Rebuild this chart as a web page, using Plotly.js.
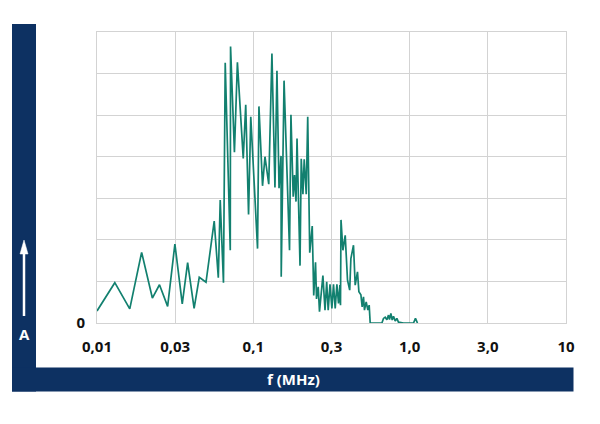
<!DOCTYPE html>
<html>
<head>
<meta charset="utf-8">
<script src="https://cdn.plot.ly/plotly-3.0.1.min.js"></script>
<style>html,body{margin:0;padding:0;background:#fff;}#chart{width:600px;height:424px;}</style>
</head>
<body>
<div id="chart"></div>
<script>
// Frequency (MHz) and amplitude (arbitrary units, gridline = 1)
const freqMHz = [0.0100,0.0130,0.0162,0.0193,0.0226,0.0251,0.0283,0.0315,0.0351,0.0380,
  0.0418,0.0451,0.0498,0.0562,0.0597,0.0614,0.0644,0.0661,0.0712,0.0715,
  0.0757,0.0791,0.0862,0.0894,0.0932,0.0963,0.1064,0.1086,0.1145,0.1187,
  0.1255,0.1315,0.1375,0.1416,0.1460,0.1504,0.1508,0.1572,0.1704,0.1740,
  0.1799,0.1834,0.1875,0.1903,0.1989,0.2025,0.2076,0.2116,0.2180,0.2228,
  0.2295,0.2381,0.2434,0.2499,0.2536,0.2600,0.2650,0.2786,0.2874,0.2946,
  0.3012,0.3093,0.3181,0.3257,0.3340,0.3424,0.3506,0.3579,0.3610,0.3638,
  0.3741,0.3870,0.4003,0.4135,0.4207,0.4372,0.4483,0.4637,0.4734,0.4875,
  0.4969,0.5065,0.5140,0.5271,0.5404,0.5508,0.5590,0.6643,0.6800,0.6973,
  0.7149,0.7320,0.7430,0.7583,0.7730,0.7880,0.8080,0.8280,0.8480,0.9130,
  1.0580,1.0890,1.1220];
const amplitude = [0.29,0.97,0.34,1.70,0.60,0.92,0.40,1.90,0.46,1.45,
  0.35,1.10,0.98,2.45,1.09,2.96,0.97,6.26,1.75,6.65,
  4.11,6.27,3.96,5.25,2.61,4.96,1.79,5.21,3.30,4.00,
  3.34,6.48,3.26,6.07,3.24,4.02,1.11,5.83,1.75,5.01,
  3.04,3.56,2.92,4.44,1.38,3.95,3.10,3.94,3.10,4.96,
  1.69,2.33,0.66,1.46,0.58,0.87,0.27,1.14,0.31,0.99,
  0.31,0.93,0.35,0.93,0.35,0.93,0.47,0.91,0.43,2.48,
  1.75,2.11,1.03,0.79,1.55,1.87,0.91,1.23,0.75,0.68,
  0.39,0.63,0.31,0.51,0.31,0.43,0.00,0.00,0.11,0.14,
  0.08,0.19,0.08,0.23,0.07,0.16,0.05,0.11,0.02,0.00,
  0.00,0.11,0.00];
const xTickVals = [0.01, 0.0316228, 0.1, 0.316228, 1, 3.16228, 10];
const xTickText = ['0,01','0,03','0,1','0,3','1,0','3,0','10'];
const yTickVals = [0,1,2,3,4,5,6,7];
const yTickText = ['0','','','','','','',''];

const W = 600, H = 424;
const M = {l: 97, r: 34, t: 32, b: 101};
const NAVY = '#0d3162';
const px = x => (x - M.l) / (W - M.l - M.r);
const py = y => (H - M.b - y) / (H - M.t - M.b);

const trace = {
  x: freqMHz, y: amplitude, type: 'scatter', mode: 'lines',
  line: {color: '#12806f', width: 1.7}, hoverinfo: 'skip'
};

const layout = {
  width: W, height: H,
  margin: M,
  paper_bgcolor: '#ffffff', plot_bgcolor: '#ffffff',
  showlegend: false,
  font: {family: 'Open Sans, sans-serif', color: '#111', size: 15, weight: 700},
  xaxis: {
    type: 'log', range: [-2, 1], tickvals: xTickVals, ticktext: xTickText,
    showgrid: true, gridcolor: '#d3d3d3', gridwidth: 1,
    showline: true, linecolor: '#d3d3d3', linewidth: 1, mirror: true,
    zeroline: false, ticks: 'outside', ticklen: 10, tickcolor: 'rgba(0,0,0,0)',
    tickfont: {family: 'Open Sans, sans-serif', size: 15, color: '#111', weight: 700}
  },
  yaxis: {
    range: [0, 7], tickvals: yTickVals, ticktext: yTickText,
    showgrid: true, gridcolor: '#d3d3d3', gridwidth: 1,
    showline: true, linecolor: '#d3d3d3', linewidth: 1, mirror: true,
    zeroline: false, ticks: 'outside', ticklen: 8, tickcolor: 'rgba(0,0,0,0)',
    tickfont: {family: 'Open Sans, sans-serif', size: 15, color: '#111', weight: 700}
  },
  shapes: [
    {type: 'rect', xref: 'paper', yref: 'paper', x0: px(12), x1: px(36), y0: py(391.5), y1: py(24),
     fillcolor: NAVY, line: {width: 0}, layer: 'below'},
    {type: 'rect', xref: 'paper', yref: 'paper', x0: px(12), x1: px(573.5), y0: py(391.5), y1: py(367.5),
     fillcolor: NAVY, line: {width: 0}, layer: 'below'},
    {type: 'line', xref: 'paper', yref: 'paper', x0: px(24), x1: px(24), y0: py(316), y1: py(250),
     line: {color: '#ffffff', width: 2.5}},
    {type: 'path', xref: 'paper', yref: 'paper',
     path: `M ${px(20)} ${py(254)} L ${px(24)} ${py(240)} L ${px(28)} ${py(254)} Z`,
     fillcolor: '#ffffff', line: {color: '#ffffff', width: 0.5}}
  ],
  annotations: [
    {xref: 'paper', yref: 'paper', x: px(24), y: py(333.5), text: 'A', showarrow: false,
     xanchor: 'center', yanchor: 'middle',
     font: {family: 'Open Sans, sans-serif', size: 15, color: '#ffffff', weight: 700}},
    {xref: 'paper', yref: 'paper', x: px(293), y: py(379), text: 'f (MHz)', showarrow: false,
     xanchor: 'center', yanchor: 'middle',
     font: {family: 'Open Sans, sans-serif', size: 15, color: '#ffffff', weight: 700}}
  ]
};

Plotly.newPlot('chart', [trace], layout, {displayModeBar: false, staticPlot: true});
</script>
</body>
</html>
